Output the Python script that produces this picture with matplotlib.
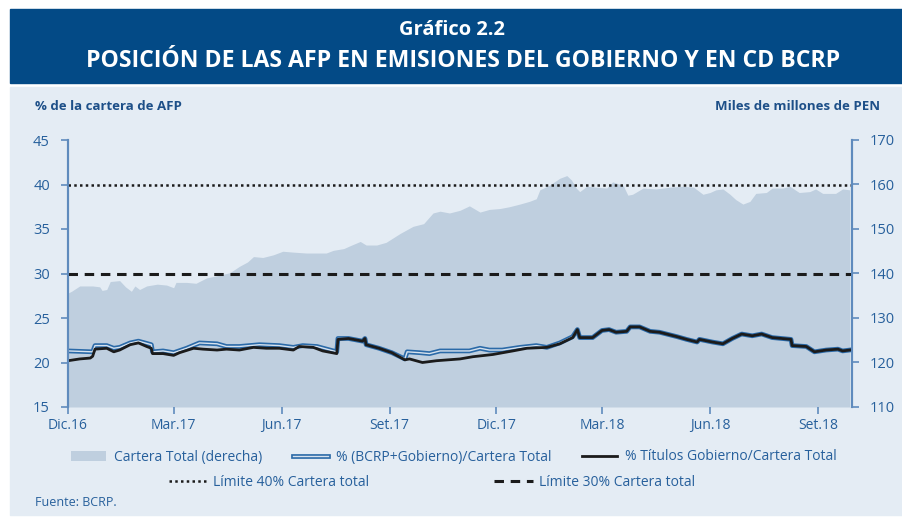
import matplotlib
matplotlib.use("Agg")
import matplotlib.pyplot as plt
import matplotlib.patheffects as pe
from matplotlib.lines import Line2D
from matplotlib.patches import Patch, Rectangle
import pandas as pd

# ---- datos ----
cartera_fechas = [
    "2016-12-01", "2016-12-04", "2016-12-11", "2016-12-22", "2016-12-28", "2016-12-30",
    "2017-01-03", "2017-01-06", "2017-01-14", "2017-01-19", "2017-01-24", "2017-01-27",
    "2017-01-31", "2017-02-06", "2017-02-15", "2017-02-23", "2017-03-01", "2017-03-03",
    "2017-03-12", "2017-03-20", "2017-03-23", "2017-03-29", "2017-04-09", "2017-04-18",
    "2017-04-26", "2017-05-03", "2017-05-08", "2017-05-16", "2017-05-25", "2017-06-02",
    "2017-06-11", "2017-06-22", "2017-07-01", "2017-07-09", "2017-07-15", "2017-07-24",
    "2017-07-29", "2017-08-07", "2017-08-12", "2017-08-21", "2017-08-29", "2017-09-04",
    "2017-09-10", "2017-09-21", "2017-09-30", "2017-10-08", "2017-10-14", "2017-10-22",
    "2017-10-31", "2017-11-08", "2017-11-17", "2017-11-25", "2017-12-04", "2017-12-12",
    "2017-12-21", "2017-12-29", "2018-01-04", "2018-01-07", "2018-01-15", "2018-01-24",
    "2018-01-30", "2018-02-03", "2018-02-07", "2018-02-10", "2018-02-16", "2018-02-24",
    "2018-03-05", "2018-03-10", "2018-03-19", "2018-03-23", "2018-03-27", "2018-04-05",
    "2018-04-16", "2018-04-28", "2018-05-09", "2018-05-18", "2018-05-26", "2018-06-01",
    "2018-06-06", "2018-06-12", "2018-06-18", "2018-06-23", "2018-06-29", "2018-07-05",
    "2018-07-10", "2018-07-19", "2018-07-24", "2018-08-02", "2018-08-08", "2018-08-16",
    "2018-08-25", "2018-08-30", "2018-09-05", "2018-09-16", "2018-09-22", "2018-09-28",
]
# miles de millones de PEN (eje derecho)
cartera_total = [
    135.6, 136.0, 137.2, 137.2, 137.0, 136.2,
    136.4, 138.2, 138.4, 137.0, 136.0, 137.2,
    136.4, 137.2, 137.6, 137.4, 136.8, 138.0,
    138.0, 137.8, 138.2, 139.0, 139.6, 140.2,
    141.6, 142.6, 143.8, 143.6, 144.2, 145.0,
    144.8, 144.6, 144.6, 144.6, 145.2, 145.6,
    146.2, 147.2, 146.4, 146.4, 147.0, 148.0,
    149.0, 150.6, 151.2, 153.6, 154.0, 153.6,
    154.2, 155.2, 153.8, 154.4, 154.6, 155.0,
    155.6, 156.2, 156.8, 158.8, 159.8, 161.4,
    162.0, 161.0, 159.2, 158.4, 159.6, 159.4,
    159.2, 160.6, 159.8, 157.6, 157.8, 159.2,
    159.0, 159.4, 159.6, 159.4, 157.8, 158.2,
    158.8, 159.0, 157.8, 156.6, 155.6, 156.2,
    158.0, 158.2, 159.2, 159.2, 159.6, 158.2,
    158.4, 159.0, 158.0, 158.0, 159.0, 158.8,
]

titulos_fechas = [
    "2016-12-01", "2016-12-11", "2016-12-20", "2016-12-22", "2016-12-24", "2017-01-03",
    "2017-01-09", "2017-01-14", "2017-01-23", "2017-01-30", "2017-02-06", "2017-02-10",
    "2017-02-11", "2017-02-20", "2017-03-01", "2017-03-06", "2017-03-18", "2017-03-26",
    "2017-04-07", "2017-04-15", "2017-04-26", "2017-05-08", "2017-05-19", "2017-05-30",
    "2017-06-11", "2017-06-16", "2017-06-28", "2017-07-06", "2017-07-18", "2017-07-19",
    "2017-07-28", "2017-08-09", "2017-08-11", "2017-08-12", "2017-08-23", "2017-09-03",
    "2017-09-14", "2017-09-18", "2017-09-29", "2017-10-11", "2017-10-31", "2017-11-11",
    "2017-11-28", "2017-12-15", "2017-12-27", "2018-01-13", "2018-01-24", "2018-02-04",
    "2018-02-08", "2018-02-10", "2018-02-21", "2018-03-01", "2018-03-07", "2018-03-13",
    "2018-03-22", "2018-03-25", "2018-04-02", "2018-04-11", "2018-04-19", "2018-05-04",
    "2018-05-12", "2018-05-21", "2018-05-23", "2018-06-03", "2018-06-12", "2018-06-20",
    "2018-06-28", "2018-07-07", "2018-07-15", "2018-07-24", "2018-08-09", "2018-08-10",
    "2018-08-22", "2018-08-29", "2018-09-08", "2018-09-18", "2018-09-22", "2018-09-28",
]
titulos_gob = [
    20.2, 20.4, 20.5, 20.7, 21.5, 21.6,
    21.2, 21.4, 22.0, 22.2, 21.8, 21.6,
    21.0, 21.0, 20.8, 21.1, 21.6, 21.5,
    21.4, 21.5, 21.4, 21.7, 21.6, 21.6,
    21.4, 21.8, 21.7, 21.3, 21.0, 22.6,
    22.7, 22.4, 22.7, 22.0, 21.6, 21.1,
    20.3, 20.4, 20.0, 20.2, 20.4, 20.65,
    20.9, 21.3, 21.6, 21.7, 22.1, 22.8,
    23.7, 22.8, 22.8, 23.6, 23.7, 23.4,
    23.5, 24.0, 24.0, 23.5, 23.4, 22.9,
    22.6, 22.3, 22.6, 22.3, 22.1, 22.7,
    23.2, 23.0, 23.2, 22.8, 22.6, 21.9,
    21.8, 21.2, 21.4, 21.5, 21.3, 21.4,
]

bcrp_fechas = [
    "2016-12-01", "2016-12-22", "2016-12-24", "2017-01-03", "2017-01-09", "2017-01-14",
    "2017-01-23", "2017-01-30", "2017-02-10", "2017-02-11", "2017-02-20", "2017-03-01",
    "2017-03-12", "2017-03-23", "2017-04-07", "2017-04-15", "2017-04-26", "2017-05-13",
    "2017-05-30", "2017-06-11", "2017-06-19", "2017-07-01", "2017-07-18", "2017-07-19",
    "2017-07-28", "2017-08-09", "2017-08-11", "2017-08-12", "2017-08-23", "2017-09-03",
    "2017-09-14", "2017-09-16", "2017-09-27", "2017-10-05", "2017-10-14", "2017-11-08",
    "2017-11-17", "2017-11-25", "2017-12-06", "2017-12-21", "2018-01-04", "2018-01-13",
    "2018-01-24", "2018-02-04", "2018-02-08", "2018-02-10", "2018-02-21", "2018-03-01",
    "2018-03-07", "2018-03-13", "2018-03-22", "2018-03-25", "2018-04-02", "2018-04-11",
    "2018-04-19", "2018-05-04", "2018-05-12", "2018-05-21", "2018-05-23", "2018-06-03",
    "2018-06-12", "2018-06-20", "2018-06-28", "2018-07-07", "2018-07-15", "2018-07-24",
    "2018-08-09", "2018-08-10", "2018-08-22", "2018-08-29", "2018-09-08", "2018-09-18",
    "2018-09-22", "2018-09-28",
]
bcrp_gob = [
    21.3, 21.2, 21.9, 21.9, 21.6, 21.7,
    22.2, 22.4, 22.0, 21.2, 21.3, 21.1,
    21.6, 22.2, 22.1, 21.8, 21.8, 22.0,
    21.9, 21.7, 21.9, 21.8, 21.2, 22.7,
    22.7, 22.4, 22.7, 22.0, 21.6, 21.1,
    20.4, 21.2, 21.1, 21.0, 21.3, 21.3,
    21.6, 21.4, 21.4, 21.7, 21.9, 21.7,
    22.2, 22.9, 23.7, 22.8, 22.8, 23.6,
    23.7, 23.4, 23.5, 24.0, 24.0, 23.5,
    23.4, 22.9, 22.6, 22.3, 22.6, 22.3,
    22.1, 22.7, 23.2, 23.0, 23.2, 22.8,
    22.6, 21.9, 21.8, 21.2, 21.4, 21.5,
    21.3, 21.4,
]

limite_40 = 40
limite_30 = 30

tick_fechas = ["2016-12-01", "2017-03-01", "2017-06-01", "2017-09-01",
               "2017-12-01", "2018-03-01", "2018-06-01", "2018-09-01"]
tick_labels = ["Dic.16", "Mar.17", "Jun.17", "Set.17",
               "Dic.17", "Mar.18", "Jun.18", "Set.18"]

# ---- estilo ----
azul_banner = "#034a86"
fondo = "#e4ecf4"
area_color = "#bfcfdf"
azul_texto = "#27609c"
azul_eje = "#5f8bbd"
negro = "#1b1b1b"
plt.rcParams["font.family"] = ["Open Sans", "DejaVu Sans"]

estilo_40 = dict(color=negro, lw=1.8, linestyle=(0, (1, 1.3)))
estilo_30 = dict(color=negro, lw=2.2, linestyle=(0, (3.1, 2.2)))
estilo_bcrp = dict(color="#d6e2ee", lw=1.0,
                   path_effects=[pe.Stroke(linewidth=3.4, foreground="#2b6aa8"), pe.Normal()])
estilo_tit = dict(color=negro, lw=2.0)

fig = plt.figure(figsize=(9.03, 5.2), dpi=100)
fig.patch.set_facecolor("white")

# banner del titulo y panel
fig.patches.append(Rectangle((10 / 903, 1 - 83 / 520), 893 / 903, 74 / 520,
                             transform=fig.transFigure, color=azul_banner, zorder=-5))
fig.patches.append(Rectangle((10 / 903, 5 / 520), 893 / 903, 428 / 520,
                             transform=fig.transFigure, color=fondo, zorder=-5))
fig.text(452 / 903, 1 - 30 / 520, "Gráfico 2.2", color="white", fontsize=14.5,
         fontweight="bold", ha="center", va="center")
fig.text(463 / 903, 1 - 61 / 520, "POSICIÓN DE LAS AFP EN EMISIONES DEL GOBIERNO Y EN CD BCRP",
         color="white", fontsize=16.6, fontweight="bold", ha="center", va="center")
fig.text(35 / 903, 1 - 107 / 520, "% de la cartera de AFP", color="#1d4f88",
         fontsize=9.5, fontweight="bold", va="center")
fig.text(880 / 903, 1 - 107 / 520, "Miles de millones de PEN", color="#1d4f88",
         fontsize=9.5, fontweight="bold", va="center", ha="right")
fig.text(35 / 903, 1 - 503 / 520, "Fuente: BCRP.", color=azul_texto, fontsize=9, va="center")

ax = fig.add_axes([68 / 903, 113 / 520, 784 / 903, 267 / 520])
ax2 = ax.twinx()

x_cartera = pd.to_datetime(cartera_fechas)
x_tit = pd.to_datetime(titulos_fechas)
x_bcrp = pd.to_datetime(bcrp_fechas)

ax2.fill_between(x_cartera, 110, cartera_total, color=area_color, lw=0)
ax2.set_ylim(110, 170)
ax2.set_yticks(range(110, 171, 10))
ax2.set_facecolor(fondo)

# las lineas van sobre el area
ax.set_zorder(ax2.get_zorder() + 1)
ax.patch.set_visible(False)

ax.axhline(limite_40, **estilo_40)
ax.axhline(limite_30, **estilo_30)
ax.plot(x_bcrp, bcrp_gob, **estilo_bcrp)
ax.plot(x_tit, titulos_gob, **estilo_tit)

ax.set_ylim(15, 45)
ax.set_yticks(range(15, 46, 5))
ax.set_xlim(pd.Timestamp("2016-12-01"), pd.Timestamp("2018-09-30"))
ax.set_xticks(pd.to_datetime(tick_fechas))
ax.set_xticklabels(tick_labels)

for a in (ax, ax2):
    for s in ("top", "bottom"):
        a.spines[s].set_visible(False)
    a.spines["left"].set_color(azul_eje)
    a.spines["right"].set_color(azul_eje)
    a.spines["left"].set_linewidth(1.5)
    a.spines["right"].set_linewidth(1.5)
    a.tick_params(colors=azul_eje, labelcolor=azul_texto, labelsize=10.5, length=5, width=1.2)
ax.tick_params(axis="x", labelsize=10, pad=3)
ax.tick_params(axis="y", pad=8)
ax2.tick_params(axis="y", pad=8)

# leyenda
h_area = Patch(facecolor=area_color, edgecolor="none")
h_bcrp = Line2D([], [], **estilo_bcrp)
h_tit = Line2D([], [], **estilo_tit)
h_40 = Line2D([], [], **estilo_40)
h_30 = Line2D([], [], **estilo_30)

fig.legend([h_area, h_bcrp, h_tit],
           ["Cartera Total (derecha)", "% (BCRP+Gobierno)/Cartera Total",
            "% Títulos Gobierno/Cartera Total"],
           loc="center", bbox_to_anchor=(0.503, 1 - 457 / 520), ncol=3, frameon=False,
           fontsize=10, labelcolor=azul_texto, columnspacing=2.2,
           handlelength=2.5, handletextpad=0.6)
fig.legend([h_40, h_30],
           ["Límite 40% Cartera total", "Límite 30% Cartera total"],
           loc="center", bbox_to_anchor=(0.478, 1 - 482 / 520), ncol=2, frameon=False,
           fontsize=10, labelcolor=azul_texto, columnspacing=9,
           handlelength=2.8, handletextpad=0.4)

fig.savefig("out.png", dpi=100)
